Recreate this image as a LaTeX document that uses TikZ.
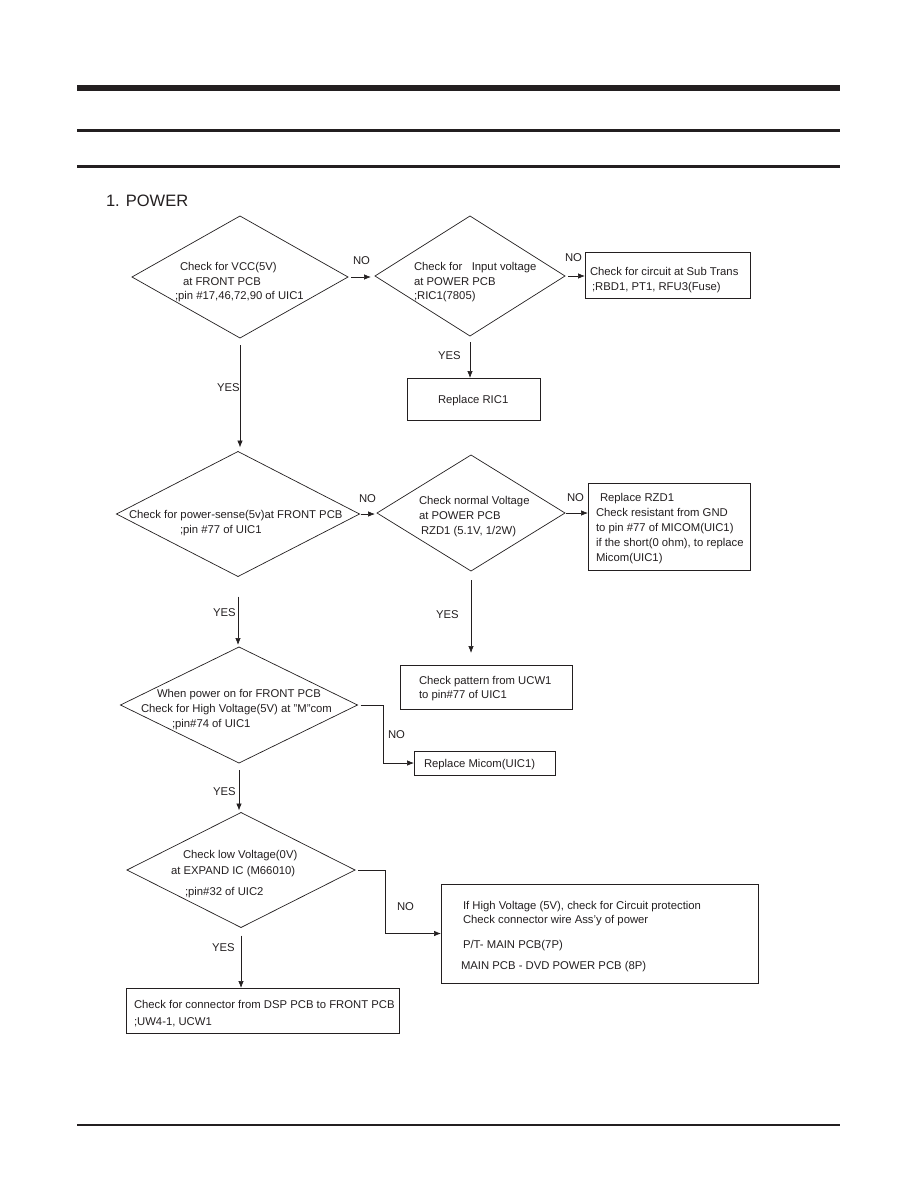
\documentclass[tikz,border=0pt]{standalone}
\usepackage{xcolor}
\usepackage{fontspec}
\setmainfont{Liberation Sans}
\usepackage{tikz}
\usetikzlibrary{arrows.meta,shapes.geometric}
\definecolor{pageink}{RGB}{35,31,32}

\begin{document}
\begin{tikzpicture}[x=1pt,y=-1pt,
  ink/.style={draw=pageink,line width=0.7pt},
  chk/.style={ink,shape=diamond,inner sep=0pt,outer sep=0pt},
  boxed/.style={ink,shape=rectangle,inner sep=0pt,outer sep=0pt},
  txt/.style={inner sep=0pt,outer sep=0pt,anchor=base west,text=pageink,font=\fontsize{11.3}{13}\selectfont},
  flow/.style={ink,-{Latex[length=7pt,width=5.5pt]}}]
\path[use as bounding box] (0,0) rectangle (918,1188);
\path[fill=white,draw=none] (0,0) rectangle (918,1188);
\fill[pageink] (77,85) rectangle (840,91);
\fill[pageink] (77,129.5) rectangle (840,132.2);
\fill[pageink] (77,165) rectangle (840,167.7);
\fill[pageink] (77,1124.4) rectangle (840,1125.8);
\node[txt,font=\fontsize{16.5}{19}\selectfont] (title) at (106,206) {1. POWER};
\node[chk,minimum width=216pt,minimum height=122pt] (vcc) at (240,277) {};
\node[txt] (vcc1) at (180,270) {Check for VCC(5V)};
\node[txt] (vcc2) at (183,285) {at FRONT PCB};
\node[txt] (vcc3) at (175,299) {;pin \#17,46,72,90 of UIC1};
\node[chk,minimum width=190pt,minimum height=120pt] (inv) at (470,276) {};
\node[txt] (inv1) at (414,270) {Check for\ \ \ Input voltage};
\node[txt] (inv2) at (414,285) {at POWER PCB};
\node[txt] (inv3) at (414,299) {;RIC1(7805)};
\node[boxed,minimum width=165pt,minimum height=46pt] (sub) at (667.5,275) {};
\node[txt] (sub1) at (590,275) {Check for circuit at Sub Trans};
\node[txt] (sub2) at (592,290) {;RBD1, PT1, RFU3(Fuse)};
\node[boxed,minimum width=133pt,minimum height=42pt] (ric) at (473.5,399) {};
\node[txt] (ric1) at (438,403) {Replace RIC1};
\node[chk,minimum width=243pt,minimum height=125pt] (sense) at (238,514) {};
\node[txt] (sense1) at (129,518) {Check for power-sense(5v)at FRONT PCB};
\node[txt] (sense2) at (180,533) {;pin \#77 of UIC1};
\node[chk,minimum width=188pt,minimum height=116pt] (normal) at (471,513) {};
\node[txt] (normal1) at (419,504) {Check normal Voltage};
\node[txt] (normal2) at (419,519) {at POWER PCB};
\node[txt] (normal3) at (421,534) {RZD1 (5.1V, 1/2W)};
\node[boxed,minimum width=162pt,minimum height=87pt] (rzd) at (669,526.5) {};
\node[txt] (rzd1) at (600,501) {Replace RZD1};
\node[txt] (rzd2) at (596,516) {Check resistant from GND};
\node[txt] (rzd3) at (596,531) {to pin \#77 of MICOM(UIC1)};
\node[txt] (rzd4) at (596,546) {if the short(0 ohm), to replace};
\node[txt] (rzd5) at (596,561) {Micom(UIC1)};
\node[boxed,minimum width=172pt,minimum height=44pt] (pat) at (486,687) {};
\node[txt] (pat1) at (419,684) {Check pattern from UCW1};
\node[txt] (pat2) at (419,698) {to pin\#77 of UIC1};
\node[chk,minimum width=237pt,minimum height=116pt] (high) at (239,705) {};
\node[txt] (high1) at (157,697) {When power on for FRONT PCB};
\node[txt] (high2) at (141,712) {Check for High Voltage(5V) at "M"com};
\node[txt] (high3) at (172,727) {;pin\#74 of UIC1};
\node[boxed,minimum width=141pt,minimum height=24pt] (mic) at (484.5,763) {};
\node[txt] (mic1) at (424,767) {Replace Micom(UIC1)};
\node[chk,minimum width=228pt,minimum height=115pt] (low) at (241,870) {};
\node[txt] (low1) at (183,858) {Check low Voltage(0V)};
\node[txt] (low2) at (171,874) {at EXPAND IC (M66010)};
\node[txt] (low3) at (185,895) {;pin\#32 of UIC2};
\node[boxed,minimum width=317pt,minimum height=99pt] (prot) at (599.5,933.5) {};
\node[txt] (prot1) at (463,909) {If High Voltage (5V), check for Circuit protection};
\node[txt] (prot2) at (463,923) {Check connector wire Ass'y of power};
\node[txt] (prot3) at (463,948) {P/T- MAIN PCB(7P)};
\node[txt] (prot4) at (461,969) {MAIN PCB - DVD POWER PCB (8P)};
\node[boxed,minimum width=273pt,minimum height=45pt] (dsp) at (262.5,1010.5) {};
\node[txt] (dsp1) at (134,1008) {Check for connector from DSP PCB to FRONT PCB};
\node[txt] (dsp2) at (134,1025) {;UW4-1, UCW1};
\draw[flow,shorten <=3pt,shorten >=4pt] (vcc.east) -- (vcc.east -| inv.west);
\node[txt] (no1) at (353,264) {NO};
\draw[flow,shorten <=3pt] (inv.east) -- (inv.east -| sub.west);
\node[txt] (no2) at (565,261) {NO};
\draw[flow,shorten <=6pt] (inv.south) -- (inv.south |- ric.north);
\node[txt] (yes1) at (438,359) {YES};
\draw[flow,shorten <=7pt,shorten >=4pt] (vcc.south) -- (vcc.south |- sense.north);
\node[txt] (yes2) at (217,391) {YES};
\draw[flow,shorten <=1pt,shorten >=2pt] (sense.east) -- (sense.east -| normal.west);
\node[txt] (no3) at (359,502) {NO};
\draw[flow,shorten <=1pt] (normal.east) -- (normal.east -| rzd.west);
\node[txt] (no4) at (567,501) {NO};
\draw[flow,shorten <=9pt,shorten >=12pt] (normal.south) -- (normal.south |- pat.north);
\node[txt] (yes3) at (436,618) {YES};
\draw[flow,shorten <=20pt,shorten >=2pt] (sense.south) -- (sense.south |- high.north);
\node[txt] (yes4) at (213,616) {YES};
\draw[flow,shorten <=3pt] (high.east) -- ++(26,0) |- (mic.west);
\node[txt] (no5) at (388,738) {NO};
\draw[flow,shorten <=7pt,shorten >=2pt] (high.south) -- (high.south |- low.north);
\node[txt] (yes5) at (213,795) {YES};
\draw[flow,shorten <=3pt] (low.east) -- ++(30,0) |- (prot.west);
\node[txt] (no6) at (397,910) {NO};
\draw[flow,shorten <=8pt] (low.south) -- (low.south |- dsp.north);
\node[txt] (yes6) at (212,951) {YES};
\end{tikzpicture}
\end{document}
